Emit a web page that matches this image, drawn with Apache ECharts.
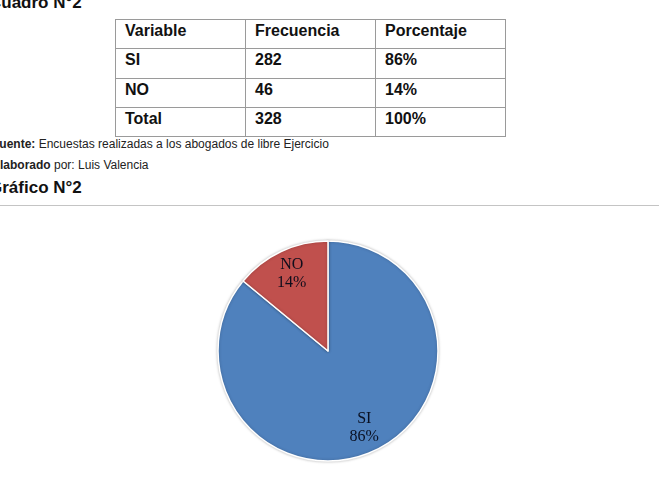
<!DOCTYPE html>
<html>
<head>
<meta charset="utf-8">
<script src="https://cdn.jsdelivr.net/npm/echarts@6/dist/echarts.min.js"></script>
<style>
  html, body { margin: 0; padding: 0; background: #fff; }
  body { width: 659px; height: 488px; position: relative; overflow: hidden;
         font-family: "Liberation Sans", Arial, sans-serif; color: #111; }
  .heading { position: absolute; left: -11px; font-size: 17px; font-weight: bold; white-space: nowrap; }
  .caption { position: absolute; left: -8px; font-size: 12px; white-space: nowrap; color: #222; }
  #cuadro { position: absolute; left: 115px; top: 19px; border-collapse: collapse; }
  #cuadro td { border: 1.5px solid #9a9a9a; width: 120px; height: 26.3px; padding: 2px 0 0 9px;
               vertical-align: top; font-size: 16px; font-weight: bold; line-height: 18px; }
  #rule { position: absolute; left: 0; top: 205px; width: 659px; height: 0; border-top: 1.5px solid #c4c4c4; }
  #pie { position: absolute; left: 0; top: 215px; width: 659px; height: 273px; }
</style>
</head>
<body>
<div class="heading" style="top:-7px">Cuadro N°2</div>
<table id="cuadro"></table>
<div class="caption" style="top:137px"><b>Fuente:</b> Encuestas realizadas a los abogados de libre Ejercicio</div>
<div class="caption" style="top:158px"><b>Elaborado</b> por: Luis Valencia</div>
<div class="heading" style="top:178px">Gráfico N°2</div>
<div id="rule"></div>
<div id="pie"></div>

<script>
// datos del cuadro / grafico
var headers = ["Variable", "Frecuencia", "Porcentaje"];
var categorias = ["SI", "NO"];
var frecuencias = [282, 46];
var porcentajes = ["86%", "14%"];
var totalFila = ["Total", "328", "100%"];
var colores = ["#4F81BD", "#C0504D"];

// tabla
var filas = [headers];
categorias.forEach(function (c, i) {
  filas.push([c, String(frecuencias[i]), porcentajes[i]]);
});
filas.push(totalFila);
var tabla = document.getElementById("cuadro");
filas.forEach(function (f) {
  var tr = document.createElement("tr");
  f.forEach(function (v) {
    var td = document.createElement("td");
    td.textContent = v;
    tr.appendChild(td);
  });
  tabla.appendChild(tr);
});

// pastel
var chart = echarts.init(document.getElementById("pie"));
var datos = categorias.map(function (c, i) {
  return { name: c, value: frecuencias[i], itemStyle: { color: colores[i] } };
});

var option = {
  animation: false,
  series: [
    {
      type: "pie",
      center: [328, 136],
      radius: 110,
      startAngle: 90,
      clockwise: true,
      silent: true,
      label: { show: false },
      labelLine: { show: false },
      itemStyle: {
        borderColor: "#fff",
        borderWidth: 1.5,
        shadowBlur: 3,
        shadowColor: "rgba(0,0,0,0.25)"
      },
      data: datos
    },
    {
      // capa transparente solo para las etiquetas
      type: "pie",
      center: [328, 136],
      radius: [54, 110],
      startAngle: 90,
      clockwise: true,
      silent: true,
      percentPrecision: 0,
      itemStyle: { color: "rgba(0,0,0,0)" },
      label: {
        show: true,
        position: "inside",
        formatter: "{b}\n{d}%",
        fontFamily: "Liberation Serif, serif",
        fontSize: 16,
        lineHeight: 18,
        color: "rgba(5,10,25,0.95)"
      },
      labelLine: { show: false },
      data: categorias.map(function (c, i) {
        return { name: c, value: frecuencias[i] };
      })
    }
  ]
};
chart.setOption(option);
</script>
</body>
</html>
